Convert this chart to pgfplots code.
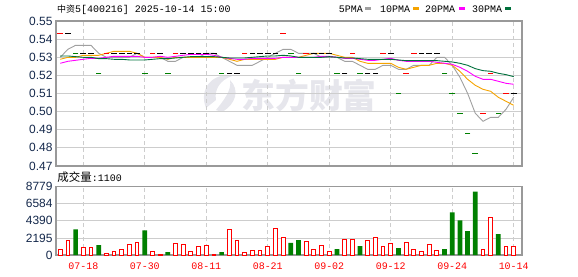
\documentclass[border=0pt]{standalone}
\usepackage{pgfplots}
\pgfplotsset{compat=1.18}
\usepackage{fontspec}
\setmainfont{Liberation Sans}
\newfontfamily\cjk{Noto Sans CJK SC}
\newfontfamily\mono{Liberation Mono}
\definecolor{ma5}{HTML}{A0A0A0}
\definecolor{ma10}{HTML}{F5A300}
\definecolor{ma20}{HTML}{FF00FF}
\definecolor{ma30}{HTML}{00703C}
\definecolor{upred}{HTML}{FF0000}
\definecolor{dngreen}{HTML}{008000}
\definecolor{gridc}{HTML}{CDCDCD}
\definecolor{axc}{HTML}{999999}
\definecolor{tickc}{HTML}{14284B}
\definecolor{wm}{HTML}{E6E6EC}
\begin{document}
\begin{tikzpicture}
\begin{scope}[x=1bp,y=1bp]
\path[use as bounding box] (0,0) rectangle (578,276);
% watermark
\fill[wm] (206,168) .. controls (198,188) and (214,204) .. (232,200) .. controls (220,196) and (214,186) .. (216,176) -- cycle;
\fill[wm] (216,166) .. controls (224,176) and (232,186) .. (230,196) .. controls (240,186) and (236,172) .. (222,164) -- cycle;
\node[text=wm, inner sep=0] at (309,181) {\cjk\bfseries\fontsize{34}{34}\selectfont 东方财富};
\end{scope}
% price axis
\begin{axis}[
  at={(56bp,110bp)}, anchor=south west, scale only axis,
  width=466bp, height=145bp,
  xmin=-0.55, xmax=60.08, ymin=0.47365, ymax=0.54615,
  xtick={3,11,19,27,35,43,51,59}, xticklabels={},
  ytick={0.47365,0.482713,0.491775,0.500838,0.5099,0.518963,0.528025,0.537088,0.54615},
  yticklabels={0.47,0.48,0.49,0.50,0.51,0.52,0.53,0.54,0.55},
  xmajorgrids, ymajorgrids,
  x grid style={gridc, dash pattern=on 4bp off 3bp, line width=0.8bp},
  y grid style={gridc, line width=0.8bp},
  major tick length=0,
  axis line style={axc, line width=1.3bp},
  yticklabel style={font=\fontsize{12}{12}\selectfont, text=tickc},
]
\addplot[only marks, mark=-, mark size=2.8bp, mark options={line width=1.3bp, upred}] coordinates {
(0,0.54)(6,0.53)(12,0.53)(15,0.53)(24,0.53)(29,0.54)(32,0.53)(38,0.53)(42,0.53)(45,0.52)(46,0.53)(55,0.50)(56,0.52)(58,0.51)};
\addplot[only marks, mark=-, mark size=2.8bp, mark options={line width=1.3bp, dngreen}] coordinates {
(2,0.53)(5,0.52)(11,0.52)(14,0.52)(21,0.52)(30,0.53)(31,0.52)(36,0.52)(39,0.52)(44,0.51)(50,0.52)(51,0.51)(52,0.50)(53,0.49)(54,0.48)(57,0.50)};
\addplot[only marks, mark=-, mark size=2.8bp, mark options={line width=1.3bp, black}] coordinates {
(1,0.54)(3,0.53)(4,0.53)(7,0.53)(8,0.53)(9,0.53)(10,0.53)(13,0.53)(16,0.53)(17,0.53)(18,0.53)(19,0.53)(20,0.53)(22,0.52)(23,0.52)(25,0.53)(26,0.53)(27,0.53)(28,0.53)(33,0.53)(34,0.53)(35,0.53)(37,0.52)(40,0.52)(41,0.52)(43,0.53)(47,0.53)(48,0.53)(49,0.53)(59,0.51)};
% MA5
\addplot[ma5, line width=0.9bp, no marks] coordinates {
(0,0.528)(1,0.532)(2,0.534)(3,0.534)(4,0.534)(5,0.530)(6,0.528)(7,0.528)(8,0.528)(9,0.528)(10,0.530)(11,0.528)(12,0.528)(13,0.528)(14,0.526)(15,0.526)(16,0.528)(17,0.528)(18,0.528)(19,0.530)(20,0.530)(21,0.528)(22,0.526)(23,0.524)(24,0.524)(25,0.524)(26,0.526)(27,0.528)(28,0.530)(29,0.532)(30,0.532)(31,0.530)(32,0.530)(33,0.530)(34,0.528)(35,0.528)(36,0.528)(37,0.526)(38,0.526)(39,0.524)(40,0.522)(41,0.522)(42,0.524)(43,0.524)(44,0.522)(45,0.522)(46,0.524)(47,0.524)(48,0.524)(49,0.528)(50,0.528)(51,0.524)(52,0.518)(53,0.510)(54,0.500)(55,0.496)(56,0.498)(57,0.498)(58,0.502)(59,0.508)};
% MA10
\addplot[ma10, line width=0.9bp, no marks] coordinates {
(0,0.527)(1,0.528)(2,0.528)(3,0.529)(4,0.529)(5,0.529)(6,0.530)(7,0.531)(8,0.531)(9,0.531)(10,0.530)(11,0.528)(12,0.528)(13,0.528)(14,0.527)(15,0.528)(16,0.528)(17,0.528)(18,0.528)(19,0.528)(20,0.528)(21,0.528)(22,0.527)(23,0.526)(24,0.527)(25,0.527)(26,0.527)(27,0.527)(28,0.527)(29,0.528)(30,0.528)(31,0.528)(32,0.529)(33,0.530)(34,0.530)(35,0.530)(36,0.529)(37,0.528)(38,0.528)(39,0.526)(40,0.525)(41,0.525)(42,0.525)(43,0.525)(44,0.523)(45,0.522)(46,0.523)(47,0.524)(48,0.524)(49,0.525)(50,0.525)(51,0.524)(52,0.521)(53,0.517)(54,0.514)(55,0.512)(56,0.511)(57,0.508)(58,0.506)(59,0.504)};
% MA20
\addplot[ma20, line width=0.9bp, no marks] coordinates {
(0,0.5250)(1,0.5260)(2,0.5265)(3,0.5270)(4,0.5275)(5,0.5275)(6,0.5280)(7,0.5285)(8,0.5285)(9,0.5285)(10,0.5285)(11,0.5280)(12,0.5280)(13,0.5285)(14,0.5280)(15,0.5285)(16,0.5290)(17,0.5295)(18,0.5295)(19,0.5295)(20,0.5290)(21,0.5280)(22,0.5275)(23,0.5270)(24,0.5270)(25,0.5275)(26,0.5275)(27,0.5275)(28,0.5275)(29,0.5280)(30,0.5280)(31,0.5280)(32,0.5280)(33,0.5280)(34,0.5285)(35,0.5285)(36,0.5280)(37,0.5275)(38,0.5275)(39,0.5270)(40,0.5265)(41,0.5265)(42,0.5270)(43,0.5275)(44,0.5265)(45,0.5260)(46,0.5260)(47,0.5260)(48,0.5260)(49,0.5255)(50,0.5250)(51,0.5245)(52,0.5230)(53,0.5210)(54,0.5185)(55,0.5170)(56,0.5170)(57,0.5160)(58,0.5150)(59,0.5145)};
% MA30
\addplot[ma30, line width=0.9bp, no marks] coordinates {
(0,0.52867)(1,0.52867)(2,0.52833)(3,0.5280)(4,0.5280)(5,0.52733)(6,0.52733)(7,0.5270)(8,0.5270)(9,0.52667)(10,0.52667)(11,0.52667)(12,0.5270)(13,0.52733)(14,0.52733)(15,0.52767)(16,0.5280)(17,0.52833)(18,0.52833)(19,0.52833)(20,0.52833)(21,0.5280)(22,0.52767)(23,0.52767)(24,0.52767)(25,0.5280)(26,0.52833)(27,0.52867)(28,0.52867)(29,0.5290)(30,0.52867)(31,0.5280)(32,0.5280)(33,0.5280)(34,0.5280)(35,0.52833)(36,0.5280)(37,0.52767)(38,0.52767)(39,0.52733)(40,0.5270)(41,0.5270)(42,0.5270)(43,0.5270)(44,0.52667)(45,0.52633)(46,0.52633)(47,0.52633)(48,0.52633)(49,0.52633)(50,0.5260)(51,0.52567)(52,0.5250)(53,0.5240)(54,0.52233)(55,0.52133)(56,0.5210)(57,0.5200)(58,0.51933)(59,0.51833)};
\end{axis}
% volume axis
\begin{axis}[
  at={(56bp,21bp)}, anchor=south west, scale only axis,
  width=466bp, height=68.3bp,
  xmin=-0.55, xmax=60.08, ymin=0, ymax=8779,
  xtick={3,11,19,27,35,43,51,59},
  xticklabels={07-18,07-30,08-11,08-21,09-02,09-12,09-24,10-14},
  ytick={0,2195,4390,6584,8779},
  yticklabels={0,2195,4390,6584,8779},
  xmajorgrids, ymajorgrids,
  x grid style={gridc, dash pattern=on 4bp off 3bp, line width=0.8bp},
  y grid style={gridc, line width=0.8bp},
  major tick length=0,
  axis line style={axc, line width=1.3bp},
  yticklabel style={font=\fontsize{12}{12}\selectfont, text=tickc},
  xticklabel style={font=\mono\fontsize{10}{10}\selectfont, text=upred, anchor=center, yshift=-11.3bp},
]
\addplot[ybar, bar shift=0pt, bar width=4.7bp, fill=dngreen, draw=none] coordinates {
(2,3307)(5,1272)(11,3180)(14,382)(21,382)(30,1569)(31,1908)(36,763)(39,1145)(44,890)(50,763)(51,5470)(52,4452)(53,3053)(54,8141)(57,2671)};
\addplot[ybar, bar shift=0pt, bar width=3.8bp, fill=white, draw=upred, line width=1bp] coordinates {
(0,720)(1,1908)(3,975)(4,975)(6,254)(7,509)(8,720)(9,1357)(10,1654)(12,509)(13,127)(15,1526)(16,1400)(17,509)(18,1145)(19,1230)(20,127)(22,3265)(23,1866)(24,382)(25,594)(26,594)(27,1103)(28,3392)(29,2247)(32,1781)(33,720)(34,1272)(35,509)(37,1993)(38,1993)(40,1908)(41,2247)(42,1103)(43,1484)(45,1654)(46,720)(47,509)(48,1357)(49,594)(55,720)(56,4791)(58,1100)(59,1100)};
\end{axis}
\begin{scope}[x=1bp,y=1bp]
% title and labels
\node[anchor=base west, inner sep=0] at (57,263.5) {{\cjk\fontsize{9}{9}\selectfont 中资}{\mono\fontsize{10}{10}\selectfont 5[400216] 2025-10-14 15:00}};
\node[anchor=base west, inner sep=0] at (57.3,94.5) {{\cjk\fontsize{11.5}{11.5}\selectfont 成交量}{\mono\fontsize{10}{10}\selectfont :1100}};
% legend
\node[anchor=base west, inner sep=0] at (338.7,263.5) {\mono\fontsize{10}{10}\selectfont 5PMA};
\fill[ma5] (365,265.5) rectangle (370.5,268.5);
\node[anchor=base west, inner sep=0] at (380,263.5) {\mono\fontsize{10}{10}\selectfont 10PMA};
\fill[ma10] (413,265.5) rectangle (418.5,268.5);
\node[anchor=base west, inner sep=0] at (425,263.5) {\mono\fontsize{10}{10}\selectfont 20PMA};
\fill[ma20] (459,265.5) rectangle (464.5,268.5);
\node[anchor=base west, inner sep=0] at (472,263.5) {\mono\fontsize{10}{10}\selectfont 30PMA};
\fill[ma30] (505,265.5) rectangle (510.5,268.5);
\end{scope}
\end{tikzpicture}
\end{document}
